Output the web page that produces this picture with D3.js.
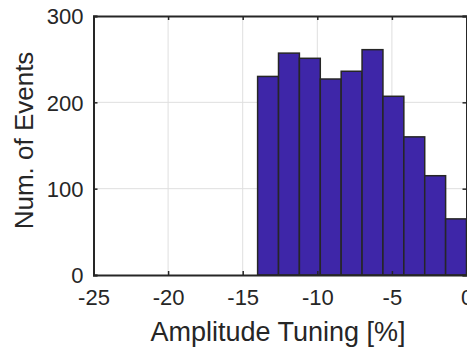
<!DOCTYPE html>
<html>
<head>
<meta charset="utf-8">
<script src="https://cdn.jsdelivr.net/npm/d3@7"></script>
<style>
  html, body { margin: 0; padding: 0; background: #fff; }
  svg { display: block; font-family: 'Liberation Sans', Arial, sans-serif; }
</style>
</head>
<body>
<svg id="canvas"></svg>
<script>
// histogram bins (left edges), bin width and counts
let binStarts = [-14, -12.6, -11.2, -9.8, -8.4, -7, -5.6, -4.2, -2.8, -1.4]
let binWidth = 1.4
let counts = [230, 257, 251, 227, 236, 261, 207, 160, 115, 65]

let xTicks = [-25, -20, -15, -10, -5, 0]
let yTicks = [0, 100, 200, 300]

let width = 467,
height = 350

let plotLeft = 93.5, plotRight = 466.5, plotTop = 16, plotBottom = 275

let canvas = d3.select('#canvas')
.attr('width', width)
.attr('height', height)

let x = d3.scaleLinear().domain([-25, 0]).range([plotLeft, plotRight])
let y = d3.scaleLinear().domain([0, 300]).range([plotBottom, plotTop])

let axisColor = '#262626'

// grid
canvas.append('g')
.selectAll('line')
.data(xTicks.slice(1, -1))
.join('line')
.attr('x1', (d) => x(d)).attr('x2', (d) => x(d))
.attr('y1', plotTop).attr('y2', plotBottom)
.attr('stroke', '#dfdfdf').attr('stroke-width', 1)

canvas.append('g')
.selectAll('line')
.data(yTicks.slice(1, -1))
.join('line')
.attr('x1', plotLeft).attr('x2', plotRight)
.attr('y1', (d) => y(d)).attr('y2', (d) => y(d))
.attr('stroke', '#dfdfdf').attr('stroke-width', 1)

// bars
canvas.append('g')
.selectAll('rect')
.data(counts)
.join('rect')
.attr('x', (d, i) => x(binStarts[i]))
.attr('width', (d, i) => x(binStarts[i] + binWidth) - x(binStarts[i]))
.attr('y', (d) => y(d))
.attr('height', (d) => y(0) - y(d))
.attr('fill', '#3E26A8')
.attr('stroke', '#262626')
.attr('stroke-width', 1.5)

// axes: bottom/left with labels, top/right ticks only, all ticks inward
let tickLen = 4
let xAxis = d3.axisBottom(x).tickValues(xTicks).tickSize(-tickLen).tickPadding(14).tickFormat((d) => d)
let yAxis = d3.axisLeft(y).tickValues(yTicks).tickSize(-tickLen).tickPadding(10)
let xTop = d3.axisTop(x).tickValues(xTicks).tickSize(-tickLen).tickFormat('')
let yRight = d3.axisRight(y).tickValues(yTicks).tickSize(-tickLen).tickFormat('')

let gx = canvas.append('g').attr('transform', `translate(0, ${plotBottom})`).call(xAxis)
let gy = canvas.append('g').attr('transform', `translate(${plotLeft}, 0)`).call(yAxis)
let gt = canvas.append('g').attr('transform', `translate(0, ${plotTop})`).call(xTop)
let gr = canvas.append('g').attr('transform', `translate(${plotRight}, 0)`).call(yRight)

;[gx, gy, gt, gr].forEach((g) => {
    g.select('.domain').attr('stroke', axisColor).attr('stroke-width', 2)
    g.selectAll('.tick line').attr('stroke', axisColor).attr('stroke-width', 1.5)
    g.selectAll('.tick text').attr('fill', axisColor).attr('font-size', 22)
    .attr('font-family', "'Liberation Sans', Arial, sans-serif")
})
gy.selectAll('.tick text').attr('dy', '0.36em')

// axis labels
canvas.append('text')
.attr('x', (plotLeft + plotRight) / 2 - 2)
.attr('y', 341)
.attr('text-anchor', 'middle')
.attr('font-size', 27)
.attr('fill', axisColor)
.text('Amplitude Tuning [%]')

canvas.append('text')
.attr('transform', `translate(33, ${(plotTop + plotBottom) / 2 - 5}) rotate(-90)`)
.attr('text-anchor', 'middle')
.attr('font-size', 26)
.attr('fill', axisColor)
.text('Num. of Events')
</script>
</body>
</html>
